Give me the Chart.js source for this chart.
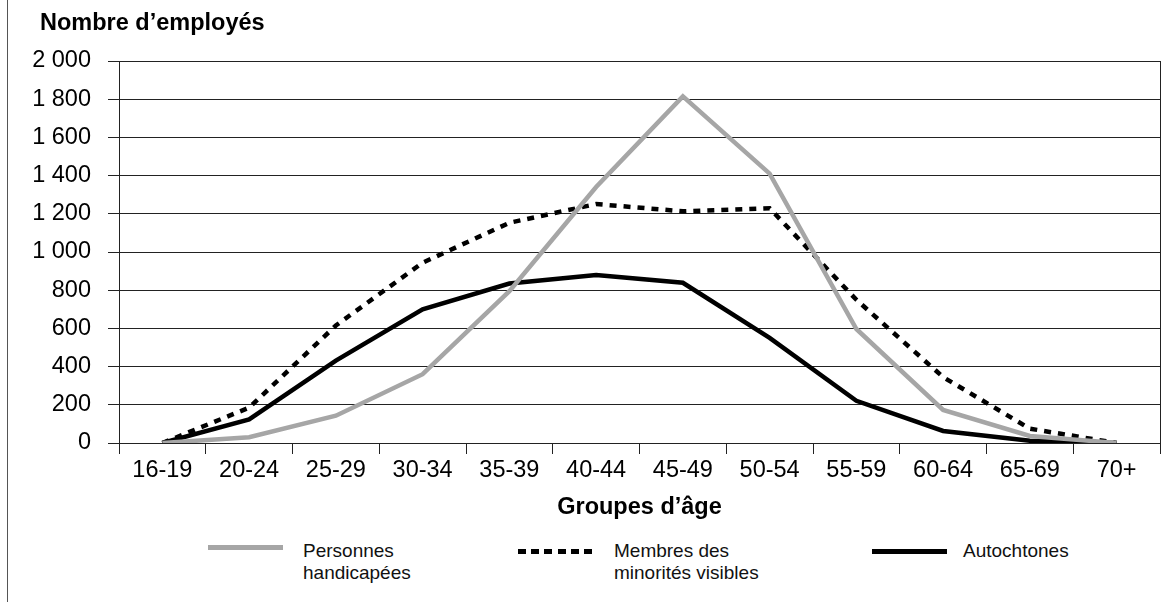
<!DOCTYPE html>
<html>
<head>
<meta charset="utf-8">
<script src="https://cdn.jsdelivr.net/npm/chart.js@4.4.1/dist/chart.umd.min.js"></script>
<style>
  html, body { margin: 0; padding: 0; background: #fff; }
  body { width: 1174px; height: 602px; position: relative; overflow: hidden; font-family: "Liberation Sans", Arial, sans-serif; }
  #edge { position: absolute; left: 7px; top: 0; width: 1px; height: 602px; background: #555; }
  #wrap { position: absolute; left: 0; top: 0; width: 1174px; height: 522px; }
  #ytitle { position: absolute; left: 40px; top: 9px; font-size: 23.5px; line-height: 27px; font-weight: bold; color: #000; }
  .leg { position: absolute; top: 540px; font-size: 19px; line-height: 22px; color: #111; }
  .swatch { position: absolute; width: 75px; height: 5px; }
</style>
</head>
<body>
<div id="edge"></div>
<div id="wrap"><canvas id="chart"></canvas></div>
<div id="ytitle">Nombre d’employés</div>

<div class="swatch" style="left:208px;top:545px;background:#a6a6a6"></div>
<div class="leg" style="left:303px">Personnes<br>handicapées</div>
<div class="swatch" style="left:518px;top:549px;width:74px;background:repeating-linear-gradient(90deg,#000 0 8px,transparent 8px 13.2px)"></div>
<div class="leg" style="left:614px">Membres des<br>minorités visibles</div>
<div class="swatch" style="left:872px;top:549px;background:#000"></div>
<div class="leg" style="left:963px">Autochtones</div>

<script>
// age groups and headcounts
const ageGroups = ["16-19", "20-24", "25-29", "30-34", "35-39", "40-44", "45-49", "50-54", "55-59", "60-64", "65-69", "70+"];
const handicapees = [0, 30, 143, 360, 795, 1340, 1815, 1410, 597, 173, 37, 0];
const minorites = [0, 185, 615, 944, 1153, 1251, 1213, 1229, 750, 345, 75, 0];
const autochtones = [0, 124, 431, 700, 835, 880, 839, 550, 221, 63, 12, 0];
const yTicks = [0, 200, 400, 600, 800, 1000, 1200, 1400, 1600, 1800, 2000];

// thousands with a plain space, like "2 000"
const fmt = (v) => String(v).replace(/\B(?=(\d{3})+(?!\d))/g, " ");

const FONT = "'Liberation Sans', Arial, sans-serif";

// right edge of the plot box
const frame = {
  id: "frame",
  afterDatasetsDraw(chart) {
    const { ctx, chartArea } = chart;
    ctx.save();
    ctx.strokeStyle = "#222";
    ctx.lineWidth = 1;
    ctx.beginPath();
    ctx.moveTo(chartArea.right + 0.5, chartArea.top);
    ctx.lineTo(chartArea.right + 0.5, chartArea.bottom);
    ctx.stroke();
    ctx.restore();
  },
};

new Chart(document.getElementById("chart"), {
  type: "line",
  data: {
    labels: ageGroups,
    datasets: [
      {
        label: "Personnes handicapées",
        data: handicapees,
        borderColor: "#a6a6a6",
        borderWidth: 4.5,
        pointRadius: 0,
        tension: 0,
      },
      {
        label: "Membres des minorités visibles",
        data: minorites,
        borderColor: "#000",
        borderWidth: 4.5,
        borderDash: [7, 7],
        pointRadius: 0,
        tension: 0,
      },
      {
        label: "Autochtones",
        data: autochtones,
        borderColor: "#000",
        borderWidth: 4.5,
        pointRadius: 0,
        tension: 0,
      },
    ],
  },
  options: {
    responsive: true,
    maintainAspectRatio: false,
    animation: false,
    layout: { padding: { left: 28, right: 14, top: 61, bottom: 0 } },
    scales: {
      x: {
        offset: true,
        grid: {
          offset: true,
          drawOnChartArea: false,
          tickLength: 11,
          color: "#222",
        },
        border: { color: "#222" },
        ticks: {
          color: "#000",
          padding: 2,
          maxRotation: 0,
          font: { family: FONT, size: 23.5 },
        },
        title: {
          display: true,
          text: "Groupes d’âge",
          color: "#000",
          font: { family: FONT, size: 23.5, weight: "bold" },
          padding: { top: 4, bottom: 0 },
        },
        afterFit: (s) => { s.height = 79; },
      },
      y: {
        min: 0,
        max: 2000,
        afterBuildTicks: (s) => { s.ticks = yTicks.map((v) => ({ value: v })); },
        grid: { color: "#222", tickLength: 11 },
        border: { color: "#222" },
        ticks: {
          color: "#000",
          padding: 17,
          font: { family: FONT, size: 23.5 },
          callback: (v) => fmt(v),
        },
        afterFit: (s) => { s.width = 91; },
      },
    },
    plugins: {
      legend: { display: false },
      tooltip: { enabled: false },
      title: { display: false },
    },
  },
  plugins: [frame],
});
</script>
</body>
</html>
